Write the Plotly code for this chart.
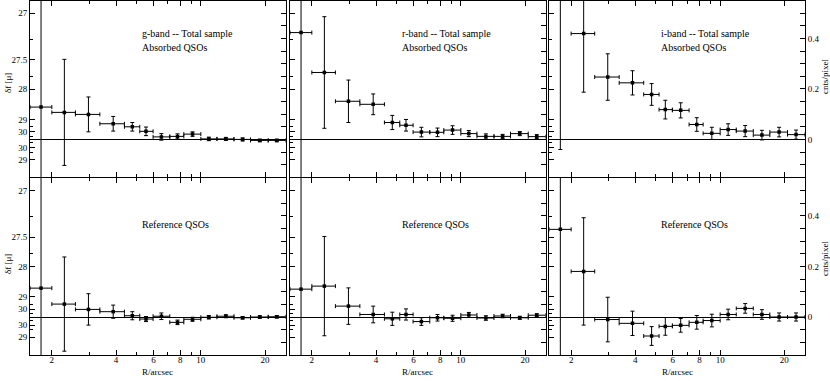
import numpy as np
import plotly.graph_objects as go

# radial bins (arcsec): bin edges and bin centres
r_edges = [1.58, 2.0, 2.58, 3.36, 4.38, 5.17, 5.97, 7.15, 8.32, 10.0, 11.9, 14.3, 17.1, 20.7, 25.0]
r_mid = [1.78, 2.29, 2.97, 3.88, 4.77, 5.53, 6.53, 7.77, 9.14, 10.9, 13.1, 15.7, 18.9, 22.7]

# excess flux in cnts/pixel, absorbed and reference QSOs per band
g_abs = [0.128, 0.107, 0.099, 0.062, 0.050, 0.032, 0.010, 0.012, 0.021, 0.002, 0.002, 0.0, -0.004, -0.004]
g_abs_err = [1.0, 0.210, 0.069, 0.029, 0.017, 0.017, 0.013, 0.010, 0.009, 0.007, 0.006, 0.006, 0.005, 0.005]
g_ref = [0.114, 0.051, 0.030, 0.021, 0.005, -0.008, 0.003, -0.021, -0.009, -0.001, 0.003, -0.003, 0.0, 0.001]
g_ref_err = [1.0, 0.186, 0.062, 0.026, 0.016, 0.010, 0.013, 0.009, 0.008, 0.007, 0.006, 0.005, 0.005, 0.005]

r_abs = [0.423, 0.265, 0.151, 0.139, 0.067, 0.056, 0.029, 0.028, 0.037, 0.023, 0.012, 0.012, 0.023, 0.011]
r_abs_err = [1.0, 0.221, 0.084, 0.041, 0.028, 0.023, 0.019, 0.017, 0.017, 0.012, 0.010, 0.008, 0.008, 0.008]
r_ref = [0.110, 0.122, 0.043, 0.010, -0.007, 0.010, -0.018, -0.003, -0.005, 0.008, -0.004, 0.004, -0.003, 0.007]
r_ref_err = [1.0, 0.196, 0.072, 0.033, 0.026, 0.022, 0.015, 0.013, 0.012, 0.010, 0.009, 0.007, 0.006, 0.006]

i_abs = [0.62, 0.419, 0.247, 0.224, 0.178, 0.118, 0.115, 0.059, 0.024, 0.039, 0.033, 0.017, 0.029, 0.019]
i_abs_err = [0.66, 0.232, 0.092, 0.048, 0.043, 0.037, 0.030, 0.027, 0.024, 0.023, 0.022, 0.019, 0.019, 0.018]
i_ref = [0.346, 0.180, -0.010, -0.025, -0.075, -0.037, -0.033, -0.021, -0.014, 0.010, 0.034, 0.010, 0.0, 0.0]
i_ref_err = [1.0, 0.212, 0.088, 0.048, 0.037, 0.035, 0.027, 0.027, 0.025, 0.021, 0.019, 0.019, 0.016, 0.016]

# surface brightness tick labels on the left axis (mirrored below zero)
mag_major = [27, 27.5, 28, 29, 30]
mag_major_neg = [30, 29]
mag_minor = [27.25, 27.75, 29.5, 31]
mag_minor_neg = [31, 29.5]
flux_at_27 = 0.5

cnts_labels = [0, 0.2, 0.4]

panels = [
    ("g-band -- Total sample", "Absorbed QSOs", g_abs, g_abs_err),
    ("r-band -- Total sample", "Absorbed QSOs", r_abs, r_abs_err),
    ("i-band -- Total sample", "Absorbed QSOs", i_abs, i_abs_err),
    (None, "Reference QSOs", g_ref, g_ref_err),
    (None, "Reference QSOs", r_ref, r_ref_err),
    (None, "Reference QSOs", i_ref, i_ref_err),
]

W, H = 830, 381
FONT = "Liberation Serif"
col_px = [(30, 285.7), (290, 545.7), (549.3, 805)]
row_px = [(0.5, 177.3), (177.7, 355)]


def mag_to_flux(m):
    return flux_at_27 * 10 ** (-0.4 * (m - 27))


major_pos = [mag_to_flux(m) for m in mag_major] + [-mag_to_flux(m) for m in mag_major_neg]
major_txt = [str(m) for m in mag_major + mag_major_neg]
minor_pos = [mag_to_flux(m) for m in mag_minor] + [-mag_to_flux(m) for m in mag_minor_neg]

lo = [m - e for m, e in zip(r_mid, r_edges[:-1])]
hi = [e - m for m, e in zip(r_mid, r_edges[1:])]

fig = go.Figure()
layout = dict(width=W, height=H, margin=dict(l=0, r=0, t=0, b=0),
              paper_bgcolor="white", plot_bgcolor="white", showlegend=False,
              font=dict(family=FONT, size=9, color="black"))
annotations = []

for k, (title, label, vals, errs) in enumerate(panels):
    row, col = divmod(k, 3)
    n = k + 1
    xs = "" if n == 1 else str(n)
    ys2 = str(n + 6)
    x0, x1 = col_px[col]
    y0, y1 = row_px[row]
    xdom = [x0 / W, x1 / W]
    ydom = [1 - y1 / H, 1 - y0 / H]

    fig.add_trace(go.Scatter(
        x=r_mid, y=vals, mode="markers",
        marker=dict(symbol="square", size=3.5, color="black"),
        error_y=dict(type="data", array=errs, color="black", thickness=1, width=2),
        error_x=dict(type="data", symmetric=False, array=hi, arrayminus=lo,
                     color="black", thickness=1, width=2),
        xaxis="x" + xs, yaxis="y" + xs, hoverinfo="skip",
    ))
    # transparent copy so the right-hand cnts/pixel axis gets drawn
    fig.add_trace(go.Scatter(
        x=r_mid, y=vals, mode="markers", marker=dict(opacity=0),
        xaxis="x" + xs, yaxis="y" + ys2, hoverinfo="skip",
    ))

    layout["xaxis" + xs] = dict(
        type="log", range=[np.log10(1.58), np.log10(25.0)], domain=xdom,
        anchor="y" + xs, showgrid=False, zeroline=False,
        showline=True, linecolor="black", linewidth=1, mirror="ticks",
        ticks="inside", ticklen=5, tickcolor="black",
        tickvals=[2, 4, 6, 8, 10, 20], ticktext=["2", "4", "6", "8", "10", "20"],
        minor=dict(tickvals=[3, 5, 7, 9], ticks="inside", ticklen=3, tickcolor="black"),
        showticklabels=(row == 1), tickfont=dict(size=9), ticklabelstandoff=-4,
    )
    layout["yaxis" + xs] = dict(
        range=[-0.15, 0.55], domain=ydom, anchor="x" + xs,
        showgrid=False, zeroline=True, zerolinecolor="black", zerolinewidth=1,
        showline=True, linecolor="black", linewidth=1,
        ticks="inside", ticklen=5, tickcolor="black",
        tickvals=major_pos, ticktext=major_txt,
        minor=dict(tickvals=minor_pos, ticks="inside", ticklen=3, tickcolor="black"),
        showticklabels=(col == 0), tickfont=dict(size=9),
    )
    layout["yaxis" + ys2] = dict(
        range=[-0.15, 0.55], overlaying="y" + xs, anchor="x" + xs, side="right",
        showgrid=False, zeroline=False,
        showline=True, linecolor="black", linewidth=1,
        ticks="inside", ticklen=5, tickcolor="black",
        tickvals=cnts_labels, ticktext=["0", "0.2", "0.4"],
        minor=dict(tickvals=list(np.round(np.arange(-0.1, 0.51, 0.05), 2)),
                   ticks="inside", ticklen=5, tickcolor="black"),
        showticklabels=(col == 2), tickfont=dict(size=9),
    )

    if title:
        annotations.append(dict(text=title, xref="x%s domain" % xs, yref="y%s domain" % xs,
                                x=0.43, y=0.814, xanchor="left", yanchor="middle",
                                showarrow=False, font=dict(size=10)))
    annotations.append(dict(text=label, xref="x%s domain" % xs, yref="y%s domain" % xs,
                            x=0.43, y=0.735, xanchor="left", yanchor="middle",
                            showarrow=False, font=dict(size=10)))
    if row == 1:
        annotations.append(dict(text="R/arcsec", xref="x%s domain" % xs, yref="paper",
                                x=0.5, y=1 - 372 / H, xanchor="center", yanchor="middle",
                                showarrow=False, font=dict(size=9)))

for yc in (83, 264):
    annotations.append(dict(text="δf [μ]", xref="paper", yref="paper", x=8 / W, y=1 - yc / H,
                            textangle=-90, xanchor="center", yanchor="middle",
                            showarrow=False, font=dict(size=9)))
for yc in (77, 259):
    annotations.append(dict(text="cnts/pixel", xref="paper", yref="paper", x=825 / W, y=1 - yc / H,
                            textangle=-90, xanchor="center", yanchor="middle",
                            showarrow=False, font=dict(size=9)))

layout["annotations"] = annotations
fig.update_layout(**layout)
fig.write_html("out.html", config={"displayModeBar": False},
               post_script="document.body.style.margin = '0';")
